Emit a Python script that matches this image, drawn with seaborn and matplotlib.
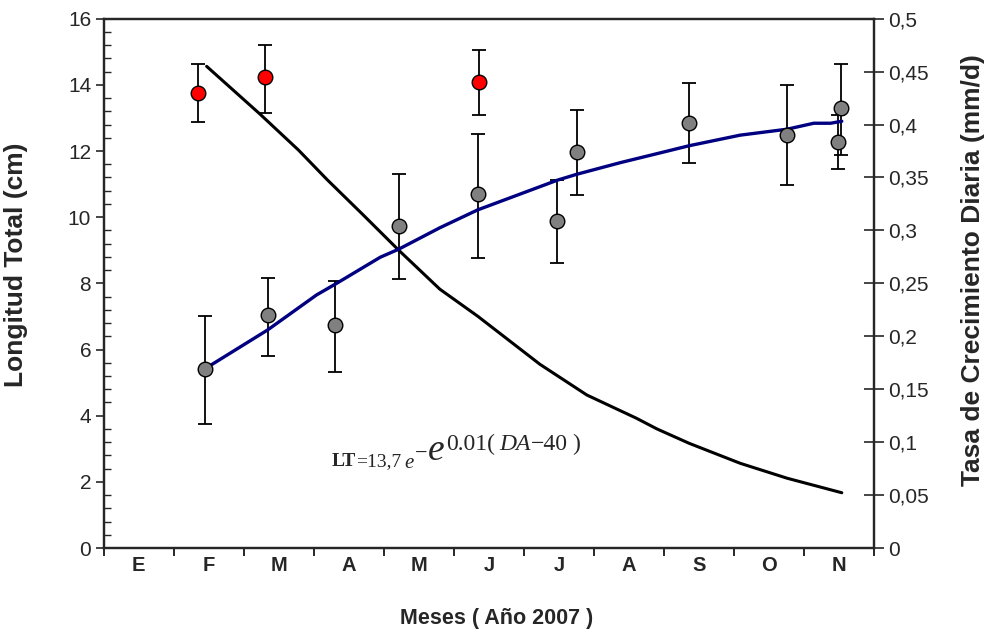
import matplotlib
matplotlib.use("Agg")
import matplotlib.pyplot as plt
import seaborn as sns
import pandas as pd
import numpy as np
from matplotlib.ticker import FixedLocator, NullFormatter, FixedFormatter

# ---------------- data ----------------
months = ["E", "F", "M", "A", "M", "J", "J", "A", "S", "O", "N"]

gray_x = [1.44, 2.34, 3.31, 4.21, 5.34, 6.48, 6.76, 8.36, 9.76, 10.53, 10.48]
gray_y = [5.41, 7.05, 6.73, 9.74, 10.70, 9.89, 11.96, 12.86, 12.49, 13.29, 12.28]
gray_lo = [3.74, 5.81, 5.32, 8.13, 8.78, 8.61, 10.67, 11.63, 10.97, 11.88, 11.47]
gray_hi = [7.01, 8.17, 8.08, 11.30, 12.51, 11.12, 13.24, 14.05, 14.01, 14.63, 13.09]

red_x = [1.34, 2.31, 5.36]
red_y = [13.74, 14.23, 14.08]
red_lo = [12.88, 13.14, 13.09]
red_hi = [14.64, 15.21, 15.05]

fit_x = [1.44, 2.34, 3.04, 3.31, 3.95, 4.21, 4.80, 5.34, 6.48, 6.76, 7.38, 7.90,
         8.36, 9.09, 9.76, 10.14, 10.38, 10.54]
fit_y = [5.41, 6.59, 7.65, 7.98, 8.79, 9.03, 9.68, 10.22, 11.12, 11.30, 11.65, 11.92,
         12.16, 12.48, 12.66, 12.84, 12.84, 12.90]

rate_x = [1.47, 2.23, 2.78, 3.19, 3.70, 4.21, 4.80, 5.34, 6.23, 6.90, 7.61, 7.90, 8.36,
          9.09, 9.76, 10.54]
rate_y = [0.455, 0.410, 0.376, 0.348, 0.315, 0.2815, 0.2445, 0.2190, 0.1735, 0.1445,
          0.1225, 0.1125, 0.0989, 0.0800, 0.0659, 0.0522]

left_ticks = [0, 2, 4, 6, 8, 10, 12, 14, 16]
right_ticks = [0, 0.05, 0.1, 0.15, 0.2, 0.25, 0.3, 0.35, 0.4, 0.45, 0.5]
right_labels = ["0", "0,05", "0,1", "0,15", "0,2", "0,25", "0,3", "0,35", "0,4", "0,45", "0,5"]

# ---------------- style ----------------
sns.set_style("ticks")
plt.rcParams["font.family"] = ["Liberation Sans", "DejaVu Sans"]
plt.rcParams["axes.linewidth"] = 1.6

W, H = 985, 632
fig = plt.figure(figsize=(W / 100, H / 100), dpi=100)
ax = fig.add_axes([103.7 / W, 1 - 548 / H, (874 - 103.7) / W, (548 - 18.7) / H])
ax2 = ax.twinx()

df_gray = pd.DataFrame({"x": gray_x, "y": gray_y})
df_red = pd.DataFrame({"x": red_x, "y": red_y})
df_fit = pd.DataFrame({"x": fit_x, "y": fit_y})
df_rate = pd.DataFrame({"x": rate_x, "y": rate_y})

# black growth-rate curve on right axis
sns.lineplot(data=df_rate, x="x", y="y", ax=ax2, color="black", linewidth=2.2,
             sort=True, estimator=None)

# error bars
gy = np.array(gray_y)
ax.errorbar(gray_x, gray_y, yerr=[gy - np.array(gray_lo), np.array(gray_hi) - gy],
            fmt="none", ecolor="black", elinewidth=1.3, capsize=4.8, capthick=1.3, zorder=3)
ry = np.array(red_y)
ax.errorbar(red_x, red_y, yerr=[ry - np.array(red_lo), np.array(red_hi) - ry],
            fmt="none", ecolor="black", elinewidth=1.3, capsize=4.8, capthick=1.3, zorder=3)

# blue fitted curve
sns.lineplot(data=df_fit, x="x", y="y", ax=ax, color="#000080", linewidth=2.4,
             sort=True, estimator=None, zorder=4)

# points
sns.scatterplot(data=df_gray, x="x", y="y", ax=ax, color="#808080", s=110,
                edgecolor="black", linewidth=1.0, zorder=5)
sns.scatterplot(data=df_red, x="x", y="y", ax=ax, color="#FF0000", s=110,
                edgecolor="black", linewidth=1.0, zorder=5)

ax.set_zorder(ax2.get_zorder() + 1)
ax.patch.set_visible(False)

# ---------------- axes ----------------
ax.set_xlim(0, 11)
ax.set_ylim(0, 16)
ax2.set_ylim(0, 0.5)

ax.xaxis.set_major_locator(FixedLocator(list(range(12))))
ax.xaxis.set_major_formatter(NullFormatter())
ax.xaxis.set_minor_locator(FixedLocator([i + 0.5 for i in range(len(months))]))
ax.xaxis.set_minor_formatter(FixedFormatter(months))
ax.tick_params(axis="x", which="major", direction="out", length=6, width=1.4)
ax.tick_params(axis="x", which="minor", length=0, pad=6, labelsize=14.5)
for lab in ax.get_xticklabels(minor=True):
    lab.set_fontweight("bold")

ax.set_yticks(left_ticks)
ax.yaxis.set_minor_locator(FixedLocator([v for v in np.arange(0, 16.01, 0.4) if abs(v / 2 - round(v / 2)) > 1e-6]))
ax.tick_params(axis="y", which="major", direction="out", length=6, width=1.2, labelsize=15, pad=3)
ax.tick_params(axis="y", which="minor", direction="in", length=5, width=1.0)

ax2.set_yticks(right_ticks)
ax2.set_yticklabels(right_labels)
ax2.tick_params(axis="y", which="major", direction="inout", length=14, width=1.2, labelsize=15, pad=3)

for s in ["top", "right", "left", "bottom"]:
    ax.spines[s].set_visible(True)
    ax2.spines[s].set_visible(True)
    ax.spines[s].set_linewidth(1.6)
    ax2.spines[s].set_linewidth(1.6)

ax.set_xlabel("Meses ( Año 2007 )", fontsize=15.5, fontweight="bold")
ax.xaxis.set_label_coords(0.51, -0.113)
ax.set_ylabel("Longitud Total (cm)", fontsize=19, fontweight="bold")
ax.yaxis.set_label_coords(-0.098, 0.535)
ax2.set_ylabel("Tasa de Crecimiento Diaria (mm/d)", fontsize=19, fontweight="bold")
ax2.yaxis.set_label_coords(1.113, 0.525)

# ---------------- equation ----------------
serif = ["Liberation Serif", "DejaVu Serif"]
renderer = fig.canvas.get_renderer()

def ptxt(x, y, s, **kw):
    t = fig.text(x / W, 1 - y / H, s, ha="left", va="baseline", family=serif, **kw)
    return t.get_window_extent(renderer).x1

x = ptxt(331.7, 466, "LT", fontsize=14, fontweight="bold")
x = ptxt(x + 0.5, 466, "=13,7", fontsize=14)
x = ptxt(x + 3, 468, "e", fontsize=15, style="italic")
x = ptxt(x + 1, 459, "\u2212", fontsize=16)
x = ptxt(x + 0.5, 460, "e", fontsize=27, style="italic")
x = ptxt(x + 1.5, 450, "0.01(", fontsize=17)
x = ptxt(x + 4, 450, "DA", fontsize=17, style="italic")
x = ptxt(x + 0.5, 450, "\u221240", fontsize=17)
x = ptxt(x + 4, 450, ")", fontsize=17)

fig.savefig("out.png", dpi=100)
